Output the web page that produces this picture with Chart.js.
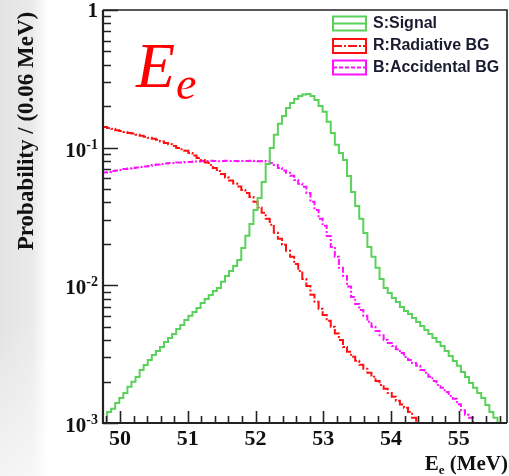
<!DOCTYPE html>
<html lang="en">
<head>
<meta charset="UTF-8">
<title>Ee probability distributions</title>
<style>
    html, body {
        margin: 0;
        padding: 0;
    }

    body {
        width: 509px;
        height: 476px;
        overflow: hidden;
        background:
            linear-gradient(to bottom, rgba(255,255,255,0) 0px, rgba(255,255,255,0) 320px, rgba(255,255,255,0.6) 476px),
            linear-gradient(to right, #e3e3e3 0px, #eaeaea 32px, #ffffff 48px);
    }

    #chart {
        display: block;
    }
</style>
<script src="https://cdn.jsdelivr.net/npm/chart.js"></script>
</head>
<body>

<canvas id="chart" width="509" height="476"></canvas>

<script>
    // histogram binning: 0.06 MeV bins
    const binStart = 49.75;
    const binWidth = 0.06;

    // S: signal
    const signal = [
        null, 0.0009, 0.00120, 0.00127, 0.00140, 0.00152, 0.00165, 0.00183, 0.00199, 0.00216,
        0.00243, 0.00264, 0.00287, 0.00312, 0.00334, 0.00357, 0.00388, 0.00415, 0.00444, 0.00482,
        0.00515, 0.00561, 0.00600, 0.00641, 0.00685, 0.00745, 0.00796, 0.00851, 0.00910, 0.00957,
        0.0106, 0.0117, 0.0127, 0.0138, 0.0153, 0.0187, 0.0229, 0.0279, 0.0353, 0.0431,
        0.0564, 0.0762, 0.0995, 0.124, 0.149, 0.170, 0.194, 0.211, 0.226, 0.237,
        0.243, 0.245, 0.237, 0.222, 0.201, 0.182, 0.154, 0.128, 0.105, 0.0916,
        0.0814, 0.0623, 0.0477, 0.0377, 0.0304, 0.0240, 0.0190, 0.0161, 0.0134, 0.0111,
        0.00957, 0.00881, 0.00810, 0.00757, 0.00697, 0.00652, 0.00620, 0.00580, 0.00542, 0.00507,
        0.00474, 0.00444, 0.00415, 0.00388, 0.00363, 0.00334, 0.00307, 0.00282, 0.00260, 0.00235,
        0.00216, 0.00195, 0.00180, 0.00165, 0.00152, 0.00135, 0.00120, 0.00109, 0.0008, null
    ];

    // R: radiative background
    const radiative = [
        0.144, 0.141, 0.139, 0.137, 0.134, 0.132, 0.130, 0.128, 0.127, 0.124,
        0.122, 0.120, 0.118, 0.116, 0.114, 0.111, 0.108, 0.106, 0.103, 0.0996,
        0.0972, 0.0948, 0.0916, 0.0878, 0.0841, 0.0814, 0.0780, 0.0748, 0.0712, 0.0677,
        0.0644, 0.0607, 0.0577, 0.0549, 0.0522, 0.0493, 0.0469, 0.0439, 0.0405, 0.0368,
        0.0336, 0.0304, 0.0276, 0.0241, 0.0218, 0.0197, 0.0178, 0.0161, 0.0143, 0.0127,
        0.0111, 0.00990, 0.00853, 0.00761, 0.00675, 0.00610, 0.00553, 0.00500, 0.00446, 0.00401,
        0.00357, 0.00329, 0.00303, 0.00283, 0.00265, 0.00248, 0.00232, 0.00217, 0.00202, 0.00189,
        0.00177, 0.00165, 0.00155, 0.00145, 0.00136, 0.00129, 0.00120, 0.00109, 0.0008, null,
        null, null, null, null, null, null, null, null, null, null,
        null, null, null, null, null, null, null, null, null, null
    ];

    // B: accidental background
    const accidental = [
        0.0650, 0.0661, 0.0667, 0.0678, 0.0683, 0.0689, 0.0700, 0.0706, 0.0712, 0.0718,
        0.0724, 0.0730, 0.0736, 0.0749, 0.0755, 0.0762, 0.0768, 0.0774, 0.0774, 0.0781,
        0.0781, 0.0787, 0.0787, 0.0794, 0.0794, 0.0800, 0.0800, 0.0802, 0.0800, 0.0798,
        0.0800, 0.0802, 0.0800, 0.0800, 0.0798, 0.0800, 0.0800, 0.0802, 0.0800, 0.0798,
        0.0800, 0.0794, 0.0774, 0.0749, 0.0712, 0.0683, 0.0656, 0.0624, 0.0583, 0.0546,
        0.0520, 0.0469, 0.0405, 0.0353, 0.0304, 0.0271, 0.0228, 0.0190, 0.0161, 0.0134,
        0.0117, 0.00979, 0.00822, 0.00731, 0.00663, 0.00600, 0.00543, 0.00500, 0.00466, 0.00434,
        0.00401, 0.00381, 0.00362, 0.00344, 0.00322, 0.00301, 0.00287, 0.00273, 0.00260, 0.00243,
        0.00232, 0.00217, 0.00202, 0.00189, 0.00180, 0.00168, 0.00157, 0.00150, 0.00137, 0.00124,
        0.00115, 0.00109, 0.0008, null, null, null, null, null, null, null
    ];

    const legendLabels = ['S:Signal', 'R:Radiative BG', 'B:Accidental BG'];
    const xTickValues = [50, 51, 52, 53, 54, 55];
    const xTickLabels = ['50', '51', '52', '53', '54', '55'];
    const yTickValues = [1, 0.1, 0.01, 0.001];
    const yTickExponents = ['', '-1', '-2', '-3'];

    const colors = ['#5ad15a', '#ff1010', '#ff10ff'];
    const dashes = [[], [9, 2, 2, 2], [6, 2, 2, 2]];

    const binEdges = signal.map((_, i) => +(binStart + i * binWidth).toFixed(2));
    const toPoints = arr => arr.map((v, i) => ({ x: binEdges[i], y: v }));

    const serif = '"Liberation Serif", "Times New Roman", serif';
    const sans = '"Liberation Sans", Arial, sans-serif';

    // frame, inward ticks, labels, legend and the big title
    const decorations = {
        id: 'decorations',
        afterDraw(chart) {
            const ctx = chart.ctx;
            const a = chart.chartArea;
            const xs = chart.scales.x;
            const ys = chart.scales.y;
            ctx.save();

            // ticks
            ctx.strokeStyle = '#222';
            ctx.lineWidth = 1.6;
            ctx.beginPath();
            for (let d = -3; d <= 0; d++) {
                const y = Math.round(ys.getPixelForValue(Math.pow(10, d))) + 0.5;
                ctx.moveTo(a.left, y);
                ctx.lineTo(a.left + 15, y);
                if (d < 0) {
                    for (let m = 2; m <= 9; m++) {
                        const ym = Math.round(ys.getPixelForValue(m * Math.pow(10, d))) + 0.5;
                        ctx.moveTo(a.left, ym);
                        ctx.lineTo(a.left + 8, ym);
                    }
                }
            }
            for (let k = 249; k <= 278; k++) {
                const x = Math.round(xs.getPixelForValue(k * 0.2)) + 0.5;
                const len = (k % 5 === 0) ? 12 : 7;
                ctx.moveTo(x, a.bottom);
                ctx.lineTo(x, a.bottom - len);
            }
            ctx.stroke();

            // frame
            ctx.lineWidth = 2.2;
            ctx.beginPath();
            ctx.moveTo(a.left, a.top);
            ctx.lineTo(a.left, a.bottom);
            ctx.lineTo(a.right, a.bottom);
            ctx.stroke();
            ctx.lineWidth = 1.6;
            ctx.beginPath();
            ctx.moveTo(a.left, a.top);
            ctx.lineTo(a.right, a.top);
            ctx.lineTo(a.right, a.bottom);
            ctx.stroke();

            // y tick labels
            ctx.fillStyle = '#111';
            ctx.textBaseline = 'alphabetic';
            ctx.textAlign = 'left';
            yTickValues.forEach((v, i) => {
                const y = ys.getPixelForValue(v);
                const right = 98;
                if (yTickExponents[i] === '') {
                    ctx.font = 'bold 21px ' + serif;
                    const w = ctx.measureText('1').width;
                    ctx.fillText('1', right - w, y + 7);
                } else {
                    ctx.font = 'bold 14px ' + serif;
                    const ws = ctx.measureText(yTickExponents[i]).width;
                    ctx.font = 'bold 21px ' + serif;
                    const wb = ctx.measureText('10').width;
                    const x0 = right - ws - wb;
                    ctx.fillText('10', x0, y + 9);
                    ctx.font = 'bold 14px ' + serif;
                    ctx.fillText(yTickExponents[i], x0 + wb, y + 1);
                }
            });

            // x tick labels
            ctx.font = 'bold 22px ' + serif;
            ctx.textAlign = 'center';
            xTickValues.forEach((v, i) => {
                ctx.fillText(xTickLabels[i], xs.getPixelForValue(v), 445);
            });

            // x axis title: E_e (MeV)
            ctx.textAlign = 'left';
            ctx.font = 'bold 21px ' + serif;
            const tail = ' (MeV)';
            const wTail = ctx.measureText(tail).width;
            const wE = ctx.measureText('E').width;
            ctx.font = 'bold 13px ' + serif;
            const wSub = ctx.measureText('e').width;
            let tx = 508 - wTail - wSub - wE;
            ctx.font = 'bold 21px ' + serif;
            ctx.fillText('E', tx, 470);
            ctx.font = 'bold 13px ' + serif;
            ctx.fillText('e', tx + wE, 474);
            ctx.font = 'bold 21px ' + serif;
            ctx.fillText(tail, tx + wE + wSub, 470);

            // y axis title
            ctx.save();
            ctx.translate(27, 131);
            ctx.rotate(-Math.PI / 2);
            ctx.textAlign = 'center';
            ctx.textBaseline = 'middle';
            ctx.font = 'bold 23px ' + serif;
            ctx.fillText('Probability / (0.06 MeV)', 0, 0);
            ctx.restore();

            // big E_e label
            ctx.fillStyle = '#ff0000';
            ctx.textAlign = 'left';
            ctx.font = 'italic 64px ' + serif;
            ctx.fillText('E', 136, 87);
            ctx.font = 'italic 46px ' + serif;
            ctx.fillText('e', 176, 99);

            // legend
            const rows = [23.5, 46, 67.5];
            legendLabels.forEach((label, i) => {
                const yc = rows[i];
                ctx.fillStyle = '#ffffff';
                ctx.fillRect(333, yc - 7, 33, 14);
                ctx.strokeStyle = colors[i];
                ctx.lineWidth = 2;
                ctx.setLineDash([]);
                ctx.strokeRect(333, yc - 7, 33, 14);
                ctx.setLineDash(i === 2 ? [4, 2] : dashes[i]);
                ctx.beginPath();
                ctx.moveTo(333, yc);
                ctx.lineTo(366, yc);
                ctx.stroke();
                ctx.setLineDash([]);
                ctx.fillStyle = '#1b1b30';
                ctx.font = 'bold 16px ' + sans;
                ctx.textBaseline = 'middle';
                ctx.fillText(label, 373, yc);
                ctx.textBaseline = 'alphabetic';
            });

            ctx.restore();
        }
    };

    const series = [signal, radiative, accidental];

    new Chart(document.getElementById('chart').getContext('2d'), {
        type: 'line',
        data: {
            datasets: series.map((arr, i) => ({
                label: legendLabels[i],
                data: toPoints(arr),
                borderColor: colors[i],
                borderWidth: 2,
                borderDash: dashes[i],
                pointRadius: 0,
                stepped: 'after',
                fill: false,
                clip: 0
            }))
        },
        options: {
            responsive: false,
            animation: false,
            layout: { padding: { left: 103, top: 10, right: 2, bottom: 53 } },
            plugins: {
                legend: { display: false },
                tooltip: { enabled: false }
            },
            scales: {
                x: { type: 'linear', min: 49.75, max: 55.71, display: false },
                y: { type: 'logarithmic', min: 0.001, max: 1, display: false }
            }
        },
        plugins: [decorations]
    });
</script>

</body>
</html>
